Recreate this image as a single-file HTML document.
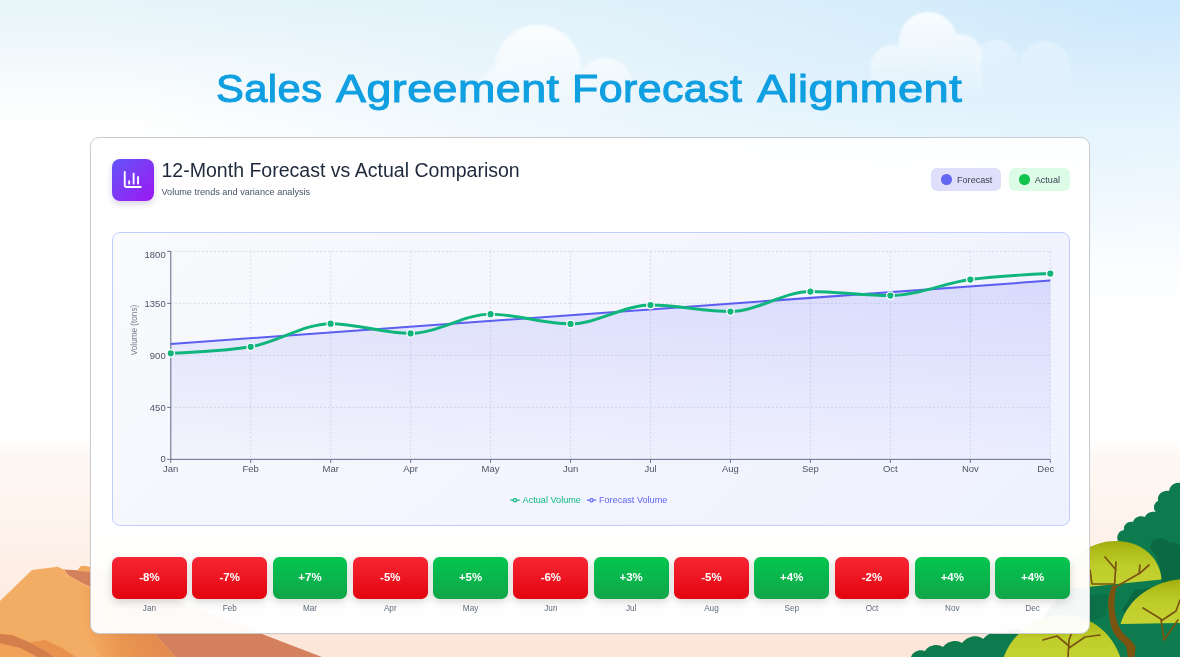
<!DOCTYPE html><html><head><meta charset="utf-8"><title>Sales Agreement Forecast Alignment</title><style>
*{margin:0;padding:0;box-sizing:border-box}
html,body{width:1180px;height:657px;overflow:hidden}
body{position:relative;font-family:"Liberation Sans",sans-serif;background:#fff;
 background-image:
  radial-gradient(ellipse 720px 130px at 800px 148px, rgba(150,215,240,0.12) 0%, rgba(150,215,240,0.08) 50%, rgba(150,215,240,0) 100%),
  radial-gradient(ellipse 1100px 320px at 100% 0%, rgba(182,221,255,0.6) 0%, rgba(180,220,254,0.34) 25%, rgba(176,218,252,0.15) 55%, rgba(176,218,250,0) 100%),
  linear-gradient(180deg,#e7f5f9 0px,#eff8fb 45px,#f9fcfd 92px,#ffffff 128px,#ffffff 438px,#fef8f4 456px,#fef4ed 515px,#fdeee5 575px,#fde9de 622px,#fce5d7 657px);
}
#fg{position:absolute;left:0;top:0;width:1180px;height:657px;will-change:transform}
#bg{position:absolute;left:0;top:0;width:1180px;height:657px}
.abs{position:absolute}
#title{position:absolute;left:0;top:59.5px;width:1180px;height:56px;color:#109fe1}
#title span{position:absolute;top:0;font-size:39.6px;line-height:56px;white-space:nowrap;transform-origin:0 50%;-webkit-text-stroke:1.05px #109fe1;letter-spacing:0.4px}
#card{position:absolute;left:90px;top:137px;width:1000px;height:497px;border-radius:9px;background:rgba(255,255,255,0.955);border:1px solid #c9cbcf;box-shadow:0 1px 3px rgba(0,0,0,0.03)}
#icon{position:absolute;left:112px;top:159px;width:41.5px;height:41.5px;border-radius:8px;background:linear-gradient(135deg,#6555fa 0%,#9c18f1 100%);box-shadow:0 3px 6px rgba(60,40,130,0.2)}
#h1{position:absolute;left:161.5px;top:158.4px;font-size:19.55px;line-height:24px;color:#1e293b;white-space:nowrap}
#h2{position:absolute;left:161.5px;top:185.5px;font-size:9.15px;line-height:12px;color:#475569;white-space:nowrap}
.chip{position:absolute;top:168px;height:23.2px;border-radius:6px;font-size:9.1px;line-height:24.8px;color:#374151;white-space:nowrap}
.chip i{position:absolute;top:6.3px;width:10.6px;height:10.6px;border-radius:50%}
#chart{position:absolute;left:112px;top:232px;width:958px;height:293.5px;border-radius:8px;border:1px solid #c2cdfb;background:linear-gradient(135deg,#f9fafc 0%,#f4f5fe 45%,#eef1ff 100%)}
#svgc{position:absolute;left:0;top:0;width:1180px;height:657px;overflow:visible}
.tile{position:absolute;top:557px;height:41.6px;width:74.8px;border-radius:6.5px;color:#fff;font-weight:bold;font-size:11.47px;line-height:41.6px;text-align:center;box-shadow:0 3px 8px rgba(0,0,0,0.16)}
.neg{background:linear-gradient(180deg,#f72734 0%,#e2040f 100%)}
.pos{background:linear-gradient(180deg,#04c650 0%,#10a549 100%)}
.tl{position:absolute;top:602.6px;width:74.8px;text-align:center;font-size:8.2px;line-height:11px;color:#5f6b7d}
</style></head><body>
<svg id="bg" viewBox="0 0 1180 657">
<defs>
<filter id="bl" x="-20%" y="-20%" width="140%" height="140%"><feGaussianBlur stdDeviation="2.2"/></filter>
<linearGradient id="cf" x1="0" y1="0" x2="0" y2="1"><stop offset="0" stop-color="#fff" stop-opacity="0.75"/><stop offset="1" stop-color="#fff" stop-opacity="0"/></linearGradient>
<linearGradient id="dome" x1="0" y1="0" x2="0" y2="1"><stop offset="0" stop-color="#a0ac0e"/><stop offset="0.22" stop-color="#b0be1a"/><stop offset="0.55" stop-color="#c0ce2c"/><stop offset="1" stop-color="#c4d233"/></linearGradient>
</defs>
<!-- clouds -->
<defs>
<linearGradient id="cg1" gradientUnits="userSpaceOnUse" x1="0" y1="25" x2="0" y2="118"><stop offset="0" stop-color="#fff" stop-opacity="0.85"/><stop offset="0.5" stop-color="#fff" stop-opacity="0.5"/><stop offset="1" stop-color="#fff" stop-opacity="0"/></linearGradient>
<linearGradient id="cg2" gradientUnits="userSpaceOnUse" x1="0" y1="12" x2="0" y2="100"><stop offset="0" stop-color="#fff" stop-opacity="0.85"/><stop offset="0.5" stop-color="#fff" stop-opacity="0.5"/><stop offset="1" stop-color="#fff" stop-opacity="0"/></linearGradient>
<linearGradient id="cg3" gradientUnits="userSpaceOnUse" x1="0" y1="40" x2="0" y2="100"><stop offset="0" stop-color="#fff" stop-opacity="0.3"/><stop offset="1" stop-color="#fff" stop-opacity="0"/></linearGradient>
<filter id="bl2" x="-10%" y="-10%" width="120%" height="120%"><feGaussianBlur stdDeviation="0.9"/></filter>
</defs>
<g filter="url(#bl2)">
<path d="M495.0,68.0a43.0,43.0 0 1,0 86.0,0a43.0,43.0 0 1,0 -86.0,0ZM578.0,85.0a27.0,27.0 0 1,0 54.0,0a27.0,27.0 0 1,0 -54.0,0ZM480.0,86.0a17.0,17.0 0 1,0 34.0,0a17.0,17.0 0 1,0 -34.0,0ZM481,86V125H632V86Z" fill="url(#cg1)"/>
<path d="M975.0,61.0a21.0,21.0 0 1,0 42.0,0a21.0,21.0 0 1,0 -42.0,0ZM1020.0,66.0a25.0,25.0 0 1,0 50.0,0a25.0,25.0 0 1,0 -50.0,0ZM975,66V110H1070V66Z" fill="url(#cg3)"/>
<path d="M899.0,41.0a29.0,29.0 0 1,0 58.0,0a29.0,29.0 0 1,0 -58.0,0ZM938.0,56.0a22.0,22.0 0 1,0 44.0,0a22.0,22.0 0 1,0 -44.0,0ZM870.0,68.0a23.0,23.0 0 1,0 46.0,0a23.0,23.0 0 1,0 -46.0,0ZM871,68V110H982V68Z" fill="url(#cg2)"/>
</g>
<!-- mountain -->
<defs><linearGradient id="med" gradientUnits="userSpaceOnUse" x1="85" y1="640" x2="160" y2="625"><stop offset="0" stop-color="#ea964f" stop-opacity="0"/><stop offset="0.45" stop-color="#e9934e" stop-opacity="0.9"/><stop offset="1" stop-color="#e38a4d" stop-opacity="1"/></linearGradient></defs>
<g>
<path d="M64,569.4 L77.8,570.3 L90,571.5 L110,574 L262,634 L322,657 L175,657 L155,634 L90,587 L78.9,581.6 L68.2,575.2 Z" fill="#d5805c"/>
<path d="M0,601 L32,570 L57.5,566.8 L61.5,568.5 L64,569.4 L68.2,575.2 L78.9,581.6 L90,587 L155,634 L175,657 L0,657 Z" fill="#f3ac63"/>
<path d="M77.3,570.8 L80.5,566.2 L85,565.8 L100,569.5 L112,575 L90,572 Z" fill="#f1a95d"/>
<path d="M80,584 L155,634 L175,657 L100,657 L84,630 Z" fill="url(#med)"/>
<path d="M0,634 L12,635 L30,642.5 L46,651 L55,657 L37,657 L20,648 L0,643.5 Z" fill="#d47e4c"/>
<path d="M30,642.5 L45,640 L62,648 L76,657 L55,657 L46,651 Z" fill="#e8924e"/>
<path d="M0,643.5 L20,648 L37,657 L0,657 Z" fill="#f0a157"/>
</g>
<!-- trees -->
<g>
<path d="M1180,483 C1174,482 1170,486 1169,491 C1162,490 1157,495 1158,501 C1153,503 1153,510 1156,512 C1150,511 1146,514 1145,517 C1139,515 1134,518 1133,522 C1127,521 1123,526 1124,530 C1118,531 1116,537 1118,541 C1114,543 1113,547 1115,550 L1085,570 L1062,592 L1040,622 L1020,640 L1005,657 L1180,657 Z" fill="#0e7b4e"/>
<path d="M911,657 C913,651 920,649 925,651 C928,645 938,643 943,647 C947,641 957,639 962,643 C967,636 978,634 983,639 C989,632 999,630 1004,634 C1010,627 1022,627 1028,634 L1060,657 Z" fill="#0e7b4e"/>
<path d="M1152,542 C1158,536 1166,538 1170,543 C1176,541 1180,545 1180,548 L1180,585 L1161,582 C1162,570 1158,556 1150,548 Z" fill="#0a6942"/>
<path d="M1135,590 L1165,586 L1175,592 L1150,600 L1128,618 L1122,610 Z" fill="#0a6942"/>
<path d="M1075,596 L1108,594 L1106,615 L1090,622 L1070,612 Z" fill="#0b7047"/>
<!-- dome1 -->
<path d="M1062,589.5 C1064,560 1088,541 1116,541 C1142,541 1160,558 1161.5,579.5 Z" fill="url(#dome)"/>
<!-- dome2 -->
<path d="M1120.5,624 C1128,598 1155,580 1184,579 L1184,623 Z" fill="url(#dome)"/>
<!-- dome3 -->
<path d="M1003,659 C1012,632 1038,615 1064,615 C1090,615 1112,632 1121,659 Z" fill="url(#dome)"/>
<!-- trunks -->
<path d="M1111.8,586 C1109,594 1107.6,601 1108.3,607.3 C1108.8,614 1109.5,621 1111.2,626.7 C1113,632 1115,635.5 1117.9,638.3 C1121,641.5 1124,643.5 1125.7,646 C1127,649 1127.5,653 1127.6,657 L1134.4,657 C1135,653 1135.8,649 1135.3,646 C1133,643 1131,640.5 1128.6,638.3 C1124,634.5 1120.8,631 1118.9,626.7 C1116,620 1114.8,613 1114.5,607.3 C1114.3,600 1115,593 1116.5,586 Z" fill="#7a5410"/>
<g stroke="#7a5410" fill="none" stroke-linecap="round" stroke-linejoin="round">
<path d="M1114.5,586 L1116,562 M1116,570 L1105,557 M1114,588 L1140,573 L1149,565 M1139,574 L1140,565 M1113,584 L1092,584 L1090,570" stroke-width="1.7"/>
<path d="M1164,640 L1161,619 L1143,608 M1161,621 L1176,611 L1180,600 M1164,640 L1178,620" stroke-width="1.7"/>
<path d="M1068,657 L1069,640 M1069,646 L1057,636 L1043,640 M1069,648 L1085,637 L1100,635 M1069,640 L1072,632" stroke-width="1.7"/>
</g>
</g>
</svg>

<div id="fg">
<div id="title">
<span style="left:216.12px;transform:scaleX(1.0535)">Sales</span>
<span style="left:336.00px;transform:scaleX(1.1335)">Agreement</span>
<span style="left:572.17px;transform:scaleX(1.0839)">Forecast</span>
<span style="left:757.07px;transform:scaleX(1.1425)">Alignment</span>
</div>
<div id="card"></div>
<div id="icon"><svg width="41.5" height="41.5" viewBox="0 0 41.5 41.5" style="position:absolute;left:0;top:0"><g fill="none" stroke="#fff" stroke-width="1.85" stroke-linecap="round" stroke-linejoin="round" transform="translate(10.09,10.42) scale(0.886,0.836)"><path vector-effect="non-scaling-stroke" d="M3 3v16a2 2 0 0 0 2 2h16"/><path vector-effect="non-scaling-stroke" d="M18 17V9"/><path vector-effect="non-scaling-stroke" d="M13 17V5"/><path vector-effect="non-scaling-stroke" d="M8 17v-3"/></g></svg></div>
<div id="h1">12-Month Forecast vs Actual Comparison</div>
<div id="h2">Volume trends and variance analysis</div>
<div class="chip" style="left:931px;width:70px;background:#dfdffb"><i style="left:10.2px;background:#6366f1"></i><span style="position:absolute;left:26px">Forecast</span></div>
<div class="chip" style="left:1008.7px;width:61.3px;background:#dcfce7"><i style="left:10.3px;background:#10c44e"></i><span style="position:absolute;left:26px">Actual</span></div>
<div id="chart"></div>
<svg id="svgc" viewBox="0 0 1180 657" font-family="Liberation Sans, sans-serif"><defs><linearGradient id="fa" x1="0" y1="0" x2="0" y2="1"><stop offset="0" stop-color="#6366f1" stop-opacity="0.17"/><stop offset="1" stop-color="#6366f1" stop-opacity="0.025"/></linearGradient></defs><g stroke="#cdd3e0" stroke-width="0.8" stroke-dasharray="1.95 1.98" fill="none"><line x1="170.75" y1="251.3" x2="170.75" y2="459.4"/><line x1="250.71" y1="251.3" x2="250.71" y2="459.4"/><line x1="330.67" y1="251.3" x2="330.67" y2="459.4"/><line x1="410.63" y1="251.3" x2="410.63" y2="459.4"/><line x1="490.59" y1="251.3" x2="490.59" y2="459.4"/><line x1="570.55" y1="251.3" x2="570.55" y2="459.4"/><line x1="650.50" y1="251.3" x2="650.50" y2="459.4"/><line x1="730.46" y1="251.3" x2="730.46" y2="459.4"/><line x1="810.42" y1="251.3" x2="810.42" y2="459.4"/><line x1="890.38" y1="251.3" x2="890.38" y2="459.4"/><line x1="970.34" y1="251.3" x2="970.34" y2="459.4"/><line x1="1050.30" y1="251.3" x2="1050.30" y2="459.4"/><line x1="170.8" y1="459.35" x2="1050.3" y2="459.35"/><line x1="170.8" y1="407.35" x2="1050.3" y2="407.35"/><line x1="170.8" y1="355.35" x2="1050.3" y2="355.35"/><line x1="170.8" y1="303.35" x2="1050.3" y2="303.35"/><line x1="170.8" y1="251.35" x2="1050.3" y2="251.35"/></g><path d="M170.75,344.02L1050.30,280.58L1050.30,459.35L170.75,459.35Z" fill="url(#fa)"/><g stroke="#65708a" stroke-width="1" fill="none"><line x1="170.8" y1="459.35" x2="1050.3" y2="459.35"/><line x1="170.8" y1="251.35" x2="170.8" y2="459.35"/><line x1="170.75" y1="459.35" x2="170.75" y2="462.85"/><line x1="250.71" y1="459.35" x2="250.71" y2="462.85"/><line x1="330.67" y1="459.35" x2="330.67" y2="462.85"/><line x1="410.63" y1="459.35" x2="410.63" y2="462.85"/><line x1="490.59" y1="459.35" x2="490.59" y2="462.85"/><line x1="570.55" y1="459.35" x2="570.55" y2="462.85"/><line x1="650.50" y1="459.35" x2="650.50" y2="462.85"/><line x1="730.46" y1="459.35" x2="730.46" y2="462.85"/><line x1="810.42" y1="459.35" x2="810.42" y2="462.85"/><line x1="890.38" y1="459.35" x2="890.38" y2="462.85"/><line x1="970.34" y1="459.35" x2="970.34" y2="462.85"/><line x1="1050.30" y1="459.35" x2="1050.30" y2="462.85"/><line x1="167.2" y1="459.35" x2="170.8" y2="459.35"/><line x1="167.2" y1="407.35" x2="170.8" y2="407.35"/><line x1="167.2" y1="355.35" x2="170.8" y2="355.35"/><line x1="167.2" y1="303.35" x2="170.8" y2="303.35"/><line x1="167.2" y1="251.35" x2="170.8" y2="251.35"/></g><g font-size="9.5" fill="#4b5565"><text x="170.75" y="471.6" text-anchor="middle">Jan</text><text x="250.71" y="471.6" text-anchor="middle">Feb</text><text x="330.67" y="471.6" text-anchor="middle">Mar</text><text x="410.63" y="471.6" text-anchor="middle">Apr</text><text x="490.59" y="471.6" text-anchor="middle">May</text><text x="570.55" y="471.6" text-anchor="middle">Jun</text><text x="650.50" y="471.6" text-anchor="middle">Jul</text><text x="730.46" y="471.6" text-anchor="middle">Aug</text><text x="810.42" y="471.6" text-anchor="middle">Sep</text><text x="890.38" y="471.6" text-anchor="middle">Oct</text><text x="970.34" y="471.6" text-anchor="middle">Nov</text><text x="1054.20" y="471.6" text-anchor="end">Dec</text><text x="165.7" y="462.35" text-anchor="end">0</text><text x="165.7" y="410.65" text-anchor="end">450</text><text x="165.7" y="358.65" text-anchor="end">900</text><text x="165.7" y="306.65" text-anchor="end">1350</text><text x="165.7" y="258.05" text-anchor="end">1800</text></g><text transform="translate(137.3,355.2) rotate(-90)" font-size="8.19" fill="#727c8c">Volume (tons)</text><path d="M170.75,344.02L1050.30,280.58" stroke="#5b5ef0" stroke-width="2" fill="none"/><path d="M170.75,353.32C197.40,352.23,224.06,351.15,250.71,346.81C277.36,342.47,304.02,323.70,330.67,323.70C357.32,323.70,383.97,333.44,410.63,333.44C437.28,333.44,463.93,314.13,490.59,314.13C517.24,314.13,543.89,323.93,570.55,323.93C597.20,323.93,623.85,305.03,650.50,305.03C677.16,305.03,703.81,311.54,730.46,311.54C757.12,311.54,783.77,291.55,810.42,291.55C837.08,291.55,863.73,295.58,890.38,295.58C917.03,295.58,943.69,283.23,970.34,279.56C996.99,275.89,1023.65,274.73,1050.30,273.57" stroke="#10b57c" stroke-width="2.95" fill="none" stroke-linecap="round"/><circle cx="170.75" cy="353.32" r="3.75" fill="#10b57c" stroke="#fff" stroke-width="1.3"/><circle cx="250.71" cy="346.81" r="3.75" fill="#10b57c" stroke="#fff" stroke-width="1.3"/><circle cx="330.67" cy="323.70" r="3.75" fill="#10b57c" stroke="#fff" stroke-width="1.3"/><circle cx="410.63" cy="333.44" r="3.75" fill="#10b57c" stroke="#fff" stroke-width="1.3"/><circle cx="490.59" cy="314.13" r="3.75" fill="#10b57c" stroke="#fff" stroke-width="1.3"/><circle cx="570.55" cy="323.93" r="3.75" fill="#10b57c" stroke="#fff" stroke-width="1.3"/><circle cx="650.50" cy="305.03" r="3.75" fill="#10b57c" stroke="#fff" stroke-width="1.3"/><circle cx="730.46" cy="311.54" r="3.75" fill="#10b57c" stroke="#fff" stroke-width="1.3"/><circle cx="810.42" cy="291.55" r="3.75" fill="#10b57c" stroke="#fff" stroke-width="1.3"/><circle cx="890.38" cy="295.58" r="3.75" fill="#10b57c" stroke="#fff" stroke-width="1.3"/><circle cx="970.34" cy="279.56" r="3.75" fill="#10b57c" stroke="#fff" stroke-width="1.3"/><circle cx="1050.30" cy="273.57" r="3.75" fill="#10b57c" stroke="#fff" stroke-width="1.3"/><g stroke="#10b981" stroke-width="1.2" fill="none"><path d="M510.3,500.2h3.1M516.6,500.2h3.1"/><circle cx="515" cy="500.2" r="1.6"/></g><text x="522.6" y="502.9" font-size="9.15" fill="#10b981">Actual Volume</text><g stroke="#6366f1" stroke-width="1.2" fill="none"><path d="M586.8,500.2h3.1M593.1,500.2h3.1"/><circle cx="591.5" cy="500.2" r="1.6"/></g><text x="598.9" y="502.9" font-size="9.15" fill="#6366f1">Forecast Volume</text></svg>
<div class="tile neg" style="left:112.00px">-8%</div><div class="tl" style="left:112.00px">Jan</div>
<div class="tile neg" style="left:192.29px">-7%</div><div class="tl" style="left:192.29px">Feb</div>
<div class="tile pos" style="left:272.58px">+7%</div><div class="tl" style="left:272.58px">Mar</div>
<div class="tile neg" style="left:352.88px">-5%</div><div class="tl" style="left:352.88px">Apr</div>
<div class="tile pos" style="left:433.17px">+5%</div><div class="tl" style="left:433.17px">May</div>
<div class="tile neg" style="left:513.46px">-6%</div><div class="tl" style="left:513.46px">Jun</div>
<div class="tile pos" style="left:593.75px">+3%</div><div class="tl" style="left:593.75px">Jul</div>
<div class="tile neg" style="left:674.04px">-5%</div><div class="tl" style="left:674.04px">Aug</div>
<div class="tile pos" style="left:754.33px">+4%</div><div class="tl" style="left:754.33px">Sep</div>
<div class="tile neg" style="left:834.62px">-2%</div><div class="tl" style="left:834.62px">Oct</div>
<div class="tile pos" style="left:914.92px">+4%</div><div class="tl" style="left:914.92px">Nov</div>
<div class="tile pos" style="left:995.21px">+4%</div><div class="tl" style="left:995.21px">Dec</div>
</div>
</body></html>
